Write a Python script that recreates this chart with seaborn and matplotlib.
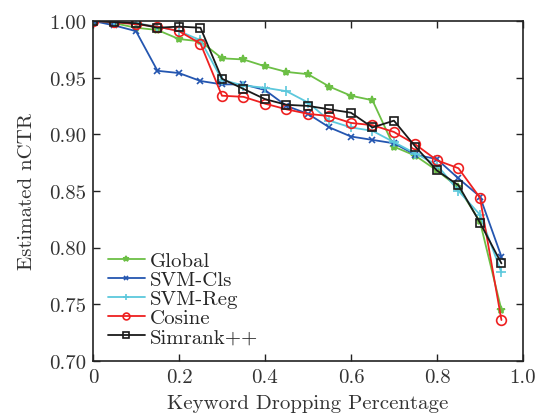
import numpy as np
import pandas as pd
import matplotlib
matplotlib.use("Agg")
import matplotlib.pyplot as plt
import seaborn as sns

# ── data ──────────────────────────────────────────────────────────────────────
drop_pct = [0.00, 0.05, 0.10, 0.15, 0.20, 0.25, 0.30, 0.35, 0.40, 0.45,
            0.50, 0.55, 0.60, 0.65, 0.70, 0.75, 0.80, 0.85, 0.90, 0.95]

global_ctr = [1.000, 0.998, 0.994, 0.992, 0.984, 0.982, 0.967, 0.966, 0.960, 0.955,
              0.953, 0.942, 0.934, 0.930, 0.889, 0.881, 0.868, 0.853, 0.823, 0.745]
svm_cls = [1.000, 0.996, 0.991, 0.956, 0.954, 0.947, 0.944, 0.944, 0.939, 0.925,
           0.918, 0.906, 0.898, 0.895, 0.892, 0.882, 0.878, 0.861, 0.845, 0.792]
svm_reg = [1.000, 0.999, 0.998, 0.995, 0.991, 0.983, 0.948, 0.943, 0.941, 0.938,
           0.928, 0.912, 0.906, 0.903, 0.893, 0.883, 0.873, 0.850, 0.829, 0.778]
cosine = [1.000, 0.999, 0.997, 0.995, 0.991, 0.980, 0.934, 0.933, 0.927, 0.922,
          0.918, 0.916, 0.910, 0.908, 0.902, 0.891, 0.877, 0.870, 0.844, 0.736]
simrank = [1.000, 0.999, 0.998, 0.994, 0.995, 0.994, 0.949, 0.940, 0.931, 0.926,
           0.925, 0.922, 0.919, 0.906, 0.912, 0.889, 0.868, 0.855, 0.822, 0.786]

series_names = ["Global", "SVM-Cls", "SVM-Reg", "Cosine", "Simrank++"]
x_ticks = [0, 0.2, 0.4, 0.6, 0.8, 1.0]
x_tick_labels = ["0", "0.2", "0.4", "0.6", "0.8", "1.0"]
y_ticks = [0.70, 0.75, 0.80, 0.85, 0.90, 0.95, 1.00]
y_tick_labels = ["0.70", "0.75", "0.80", "0.85", "0.90", "0.95", "1.00"]

STYLE = {
    "Global":    dict(color="#6cbf45", marker="*", ms=6, mfc="#6cbf45"),
    "SVM-Cls":   dict(color="#2456b0", marker="x", ms=5, mfc="#2456b0"),
    "SVM-Reg":   dict(color="#5cc8dc", marker="+", ms=7, mfc="#5cc8dc"),
    "Cosine":    dict(color="#ee2020", marker="o", ms=7, mfc="none"),
    "Simrank++": dict(color="#1a1a1a", marker="s", ms=6, mfc="none"),
}

df = pd.DataFrame({
    "x": drop_pct * 5,
    "y": global_ctr + svm_cls + svm_reg + cosine + simrank,
    "method": np.repeat(series_names, len(drop_pct)),
})

sns.set_theme(style="ticks")
plt.rcParams["font.family"] = ["cmr10", "DejaVu Serif"]
plt.rcParams["axes.formatter.use_mathtext"] = True
plt.rcParams["font.size"] = 15

fig = plt.figure(figsize=(5.47, 4.14), dpi=100)
ax = fig.add_axes([0.170, 0.126, 0.786, 0.821])

for name in series_names:
    st = STYLE[name]
    sub = df[df["method"] == name]
    sns.lineplot(data=sub, x="x", y="y", ax=ax, color=st["color"], label=name,
                 marker=st["marker"], markersize=st["ms"], markerfacecolor=st["mfc"],
                 markeredgecolor=st["color"], markeredgewidth=1.2, linewidth=1.3)

ax.set_xlim(0, 1.0)
ax.set_ylim(0.70, 1.00)
ax.set_xticks(x_ticks)
ax.set_xticklabels(x_tick_labels, fontsize=15)
ax.set_yticks(y_ticks)
ax.set_yticklabels(y_tick_labels, fontsize=15)
ax.tick_params(direction="in", top=True, right=True, length=5, width=1,
               colors="#222222", labelcolor="#333333", pad=5)
for s in ax.spines.values():
    s.set_color("#222222")
    s.set_linewidth(1.2)

ax.set_xlabel("Keyword Dropping Percentage", fontsize=15, labelpad=6, color="#333333")
ax.set_ylabel("Estimated nCTR", fontsize=15, labelpad=9, color="#333333")

ax.legend(loc="lower left", frameon=False, fontsize=15, handlelength=1.8,
          handletextpad=0.25, labelspacing=0.02, borderaxespad=0.3,
          markerscale=0.7, bbox_to_anchor=(0.0, 0.0))

fig.savefig("out.png", dpi=100)
